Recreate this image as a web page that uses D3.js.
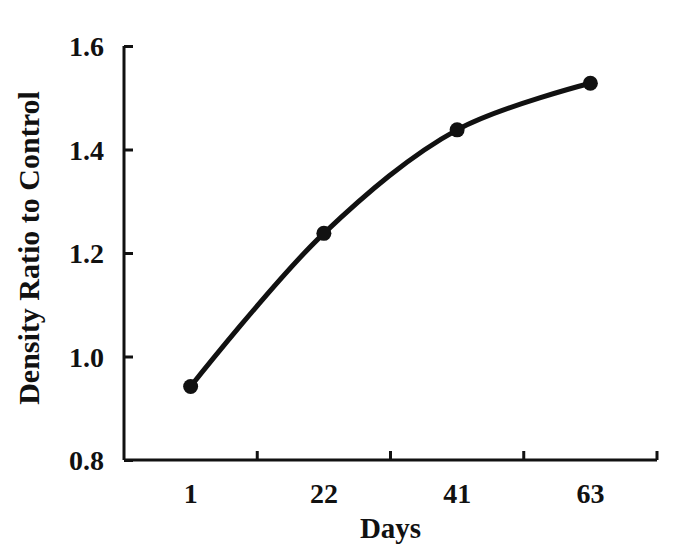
<!DOCTYPE html>
<html>
<head>
<meta charset="utf-8">
<script src="https://cdn.jsdelivr.net/npm/d3@7"></script>
<style>
  body { margin: 0; background: #fff; }
  text { font-family: "Liberation Serif", "Times New Roman", serif; font-weight: bold; fill: #111; }
</style>
</head>
<body>
<div></div>
<script>
const days = ['1', '22', '41', '63'];
const ratio = [0.942, 1.238, 1.438, 1.528];
const yTicks = [0.8, 1.0, 1.2, 1.4, 1.6];

const WIDTH = 680, HEIGHT = 553;
const PLOT_LEFT = 124, PLOT_RIGHT = 657, PLOT_TOP = 46, PLOT_BOTTOM = 460;

const svg = d3.select('div').append('svg')
    .attr('width', WIDTH)
    .attr('height', HEIGHT);

const x = d3.scaleBand().domain(days).range([PLOT_LEFT, PLOT_RIGHT]);
const y = d3.scaleLinear().domain([0.8, 1.6]).range([PLOT_BOTTOM, PLOT_TOP]);

// y axis
const yAxis = svg.append('g')
    .attr('transform', 'translate(' + PLOT_LEFT + ',0)')
    .call(d3.axisRight(y).tickValues(yTicks).tickSize(9).tickSizeOuter(0).tickFormat(d3.format('.1f')));
yAxis.attr('font-size', null).attr('font-family', null);
yAxis.select('.domain').attr('stroke', '#111').attr('stroke-width', 3)
    .attr('d', 'M0,' + PLOT_TOP + 'V' + PLOT_BOTTOM);
yAxis.selectAll('.tick line').attr('stroke', '#111').attr('stroke-width', 3);
yAxis.selectAll('.tick text')
    .attr('x', -20).attr('dy', '0.35em')
    .attr('text-anchor', 'end')
    .style('font-size', '28px');

// x axis, ticks at band edges
const xAxis = svg.append('g')
    .attr('transform', 'translate(0,' + PLOT_BOTTOM + ')');
xAxis.append('path')
    .attr('d', 'M' + PLOT_LEFT + ',0H' + PLOT_RIGHT)
    .attr('stroke', '#111').attr('stroke-width', 3).attr('fill', 'none');
xAxis.selectAll('line.edge')
    .data(days.slice(1).concat(['end']))
    .join('line')
    .attr('class', 'edge')
    .attr('x1', d => d === 'end' ? PLOT_RIGHT : x(d))
    .attr('x2', d => d === 'end' ? PLOT_RIGHT : x(d))
    .attr('y1', 0).attr('y2', -9)
    .attr('stroke', '#111').attr('stroke-width', 3);
xAxis.selectAll('text.lab')
    .data(days)
    .join('text')
    .attr('class', 'lab')
    .attr('x', d => x(d) + x.bandwidth() / 2)
    .attr('y', 43)
    .attr('text-anchor', 'middle')
    .style('font-size', '28px')
    .text(d => d);

// axis titles
svg.append('text')
    .attr('x', x('22') + x.bandwidth())
    .attr('y', 538)
    .attr('text-anchor', 'middle')
    .style('font-size', '29px')
    .text('Days');
svg.append('text')
    .attr('transform', 'translate(39,' + 248 + ') rotate(-90)')
    .attr('text-anchor', 'middle')
    .style('font-size', '30px')
    .text('Density Ratio to Control');

// line + points
const pts = days.map((d, i) => [x(d) + x.bandwidth() / 2, y(ratio[i])]);
svg.append('path')
    .datum(pts)
    .attr('d', d3.line().curve(d3.curveCatmullRom.alpha(0.5)))
    .attr('fill', 'none')
    .attr('stroke', '#111')
    .attr('stroke-width', 5);
svg.selectAll('circle')
    .data(pts)
    .join('circle')
    .attr('cx', d => d[0])
    .attr('cy', d => d[1])
    .attr('r', 7.5)
    .attr('fill', '#111');
</script>
</body>
</html>
